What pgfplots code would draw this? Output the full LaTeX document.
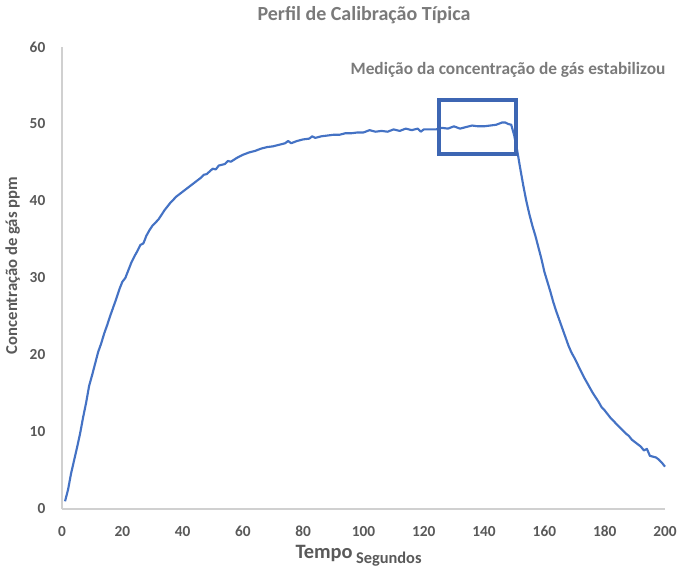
\documentclass[border=0pt]{standalone}
\usepackage{pgfplots}
\pgfplotsset{compat=1.18}
\usepackage{fontspec}
\setmainfont{Carlito}

\definecolor{exblue}{HTML}{4472C4}
\definecolor{boxblue}{HTML}{3D66B3}
\definecolor{ticktext}{HTML}{595959}
\definecolor{titletext}{HTML}{7A7A7A}
\definecolor{axisgray}{HTML}{D0D0D0}

\pgfplotstableread{
t y
1 1.0
2 2.5
3 4.6
4 6.3
5 8.0
6 9.8
7 11.9
8 13.8
9 16.0
10 17.4
11 18.9
12 20.4
13 21.5
14 22.8
15 23.9
16 25.1
17 26.2
18 27.3
19 28.5
20 29.5
21 30.0
22 31.0
23 32.0
24 32.8
25 33.5
26 34.3
27 34.5
28 35.5
29 36.2
30 36.8
31 37.2
32 37.6
33 38.2
34 38.8
35 39.3
36 39.8
37 40.2
38 40.6
39 40.9
40 41.2
42 41.8
44 42.4
46 43.0
47 43.4
48 43.5
50 44.2
51 44.1
52 44.6
54 44.8
55 45.2
56 45.1
58 45.6
60 46.0
62 46.3
64 46.5
66 46.8
68 47.0
70 47.1
72 47.3
74 47.5
75 47.8
76 47.5
78 47.8
80 48.0
82 48.1
83 48.4
84 48.2
86 48.4
88 48.5
90 48.6
92 48.6
94 48.8
96 48.8
98 48.9
100 48.9
102 49.2
104 49.0
106 49.1
108 49.0
110 49.3
112 49.1
114 49.4
116 49.2
118 49.4
119 49.0
120 49.3
122 49.3
124 49.3
126 49.5
128 49.4
130 49.7
132 49.4
134 49.6
136 49.8
138 49.7
140 49.7
142 49.8
144 49.9
146 50.2
147 50.2
148 50.0
149 49.9
150 48.5
151 46.5
152 44.2
153 42.0
154 40.0
155 38.3
156 36.8
157 35.5
158 34.0
159 32.5
160 30.8
161 29.5
162 28.2
163 26.8
164 25.6
165 24.5
166 23.4
167 22.3
168 21.2
169 20.3
170 19.6
171 18.8
172 18.0
173 17.2
174 16.5
175 15.8
176 15.1
177 14.5
178 13.9
179 13.2
180 12.8
181 12.3
182 11.8
183 11.4
184 11.0
185 10.6
186 10.2
187 9.8
188 9.5
189 9.0
190 8.7
191 8.4
192 8.1
193 7.6
194 7.8
195 6.9
196 6.8
197 6.7
198 6.4
199 6.0
200 5.5
}\calib

\begin{document}
\begin{tikzpicture}
% frame = the reference's 679x569 px, 1 px = 0.75pt, origin at axis corner
\useasboundingbox (-46.5pt,-45pt) rectangle (462.75pt,381.75pt);
\begin{axis}[
    at={(0,0)}, anchor=origin,
    scale only axis,
    width=452.25pt, height=346.5pt,
    xmin=0, xmax=200, ymin=0, ymax=60,
    xtick={0,20,...,200}, ytick={0,10,...,60},
    axis x line=bottom, axis y line=left,
    axis line style={axisgray, line width=0.8pt, -},
    major tick length=0pt,
    tick label style={font=\fontsize{11.5}{13}\selectfont\bfseries, text=ticktext},
    /pgf/number format/assume math mode=true,
    xticklabel style={yshift=-9.5pt},
    yticklabel style={xshift=-9pt},
    clip=false,
]
\addplot[exblue, line width=1.6pt, line join=round] table[x=t, y=y] {\calib};
\draw[boxblue, line width=3.2pt] (axis cs:125,53.1) rectangle (axis cs:150.6,46.1);
\end{axis}
\node[font=\fontsize{15}{17}\selectfont\bfseries, text=titletext] at (226.5pt,370.5pt) {Perfil de Calibração Típica};
\node[font=\fontsize{13}{15}\selectfont\bfseries, text=titletext] at (334.5pt,329.25pt) {Medição da concentração de gás estabilizou};
\node[font=\fontsize{12.5}{14}\selectfont\bfseries, text=ticktext, rotate=90] at (-37pt,182.6pt) {Concentração de gás ppm};
\node[font=\fontsize{15.3}{17}\selectfont\bfseries, text=ticktext, anchor=base] at (222.4pt,-36.75pt) {Tempo\,\raisebox{-3.75pt}{\fontsize{12.3}{14}\selectfont Segundos}};
\end{tikzpicture}
\end{document}
